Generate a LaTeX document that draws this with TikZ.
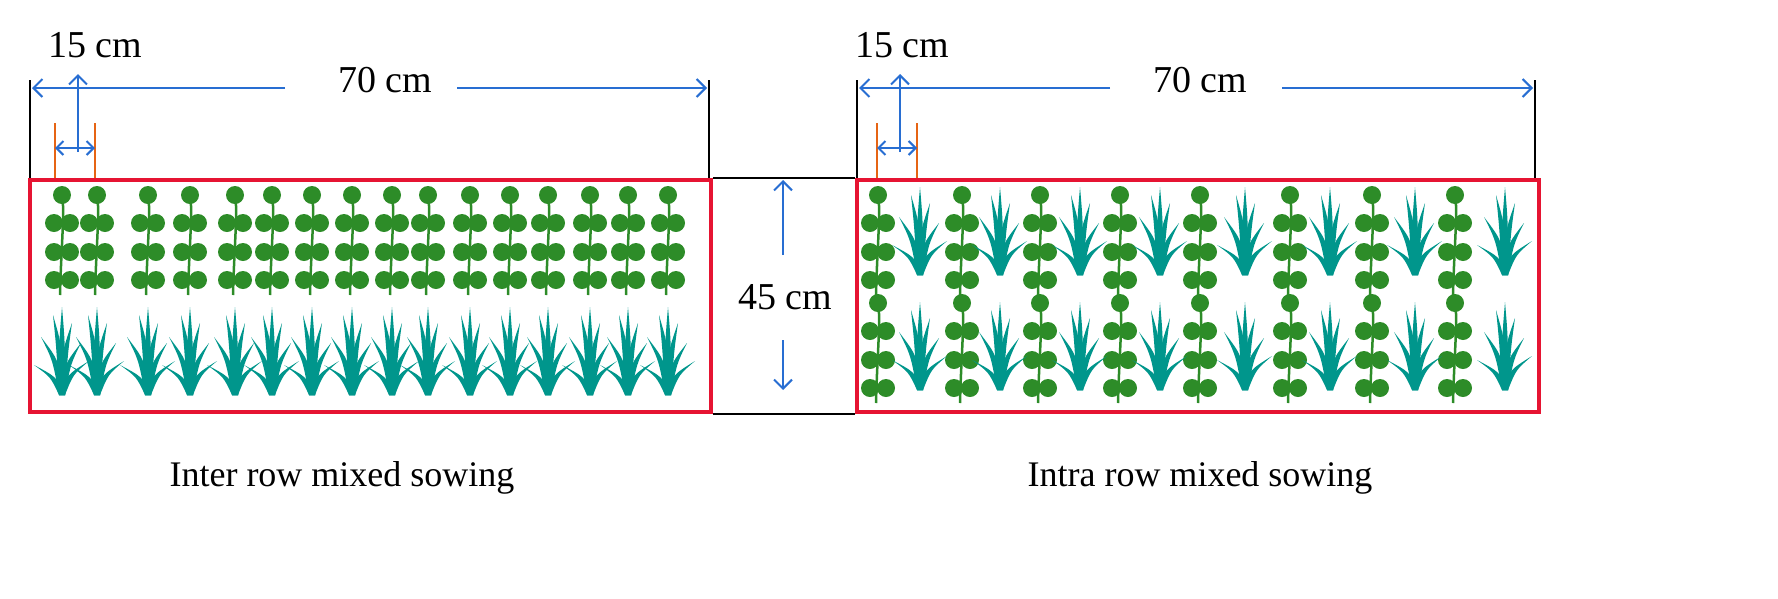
\documentclass[tikz,border=0pt]{standalone}
\usepackage{fontspec}
\setmainfont{Liberation Serif}
\usetikzlibrary{arrows.meta}
\definecolor{leg}{RGB}{45,140,40}
\definecolor{grs}{RGB}{0,150,140}
\definecolor{dimb}{RGB}{40,110,210}
\definecolor{org}{RGB}{230,100,20}
\definecolor{boxr}{RGB}{230,20,50}
\begin{document}
\begin{tikzpicture}[x=1pt,y=-1pt,
  dim/.style={draw=dimb,line width=2pt,-{Straight Barb[length=9pt,width=18pt]}},
  ddim/.style={draw=dimb,line width=2pt,{Straight Barb[length=7pt,width=14pt]}-{Straight Barb[length=7pt,width=14pt]}},
  box/.style={draw=boxr,line width=4pt},
  tick/.style={draw=black,line width=1.5pt},
  otick/.style={draw=org,line width=2pt},
  lbl/.style={font=\fontsize{38}{40}\selectfont,inner sep=2pt},
  captxt/.style={font=\fontsize{36}{40}\selectfont},
  legume/.pic={
    \draw[leg,line width=2.5pt] (0,5) .. controls (3,20) and (-1,60) .. (-2,105);
    \fill[leg] (0,5) circle (9);
    \foreach \yy in {33,62,90}{\fill[leg] (-8,\yy) circle (9); \fill[leg] (8,\yy) circle (9);}
  },
  grass/.pic={
    \foreach \tx/\ty in {-28/-30,-21/-58,-9/-80,0/-88,10/-72,19/-52,27/-34}{
      \fill[grs] (-3,0) .. controls (\tx*0.3-3,\ty*0.6) .. (\tx,\ty) .. controls (\tx*0.3+3,\ty*0.6) .. (3,0) -- cycle;}
  }]
\foreach \x in {62,97,148,190,235,272,312,352,392,428,470,510,548,590,628,668}{
  \pic at (\x,190) {legume};
  \pic at (\x,395) {grass};}
\foreach \x in {878,962,1040,1120,1200,1290,1372,1455}{
  \pic at (\x,190) {legume};
  \pic at (\x,298) {legume};}
\foreach \x in {920,1000,1080,1160,1245,1330,1415,1505}{
  \pic at (\x,275) {grass};
  \pic at (\x,390) {grass};}
\node[box,minimum width=681pt,minimum height=232pt,inner sep=0pt,anchor=north west] (L) at (28,178) {};
\node[box,minimum width=682pt,minimum height=232pt,inner sep=0pt,anchor=north west] (R) at (855,178) {};
\draw[tick] (30,80) -- (30,178); \draw[tick] (709,80) -- (709,178);
\draw[tick] (857,80) -- (857,178); \draw[tick] (1535,80) -- (1535,178);
\draw[tick] (L.north east) -- (R.north west);
\draw[tick] (L.south east) -- (R.south west);
\node[lbl] (t70l) at (385,80) {70 cm};
\node[lbl] (t70r) at (1200,80) {70 cm};
\draw[dim] (285,88) -- (32,88);
\draw[dim] (457,88) -- (707,88);
\draw[dim] (1110,88) -- (859,88);
\draw[dim] (1282,88) -- (1533,88);
\node[lbl] (t15l) at (95,45) {15 cm};
\node[lbl] (t15r) at (902,45) {15 cm};
\draw[otick] (55,123) -- (55,178); \draw[otick] (95,123) -- (95,178);
\draw[otick] (877,123) -- (877,178); \draw[otick] (917,123) -- (917,178);
\draw[ddim] (55,148) -- (95,148);
\draw[ddim] (877,148) -- (917,148);
\draw[dim] (78,152) -- (78,74);
\draw[dim] (900,152) -- (900,74);
\node[lbl] (t45) at (785,297) {45 cm};
\draw[dim] (783,255) -- (783,180);
\draw[dim] (783,340) -- (783,390);
\node[captxt] (cl) at (342,478) {Inter row mixed sowing};
\node[captxt] (cr) at (1200,478) {Intra row mixed sowing};
\pgfresetboundingbox
\useasboundingbox (0,0) rectangle (1778,598);
\end{tikzpicture}
\end{document}
